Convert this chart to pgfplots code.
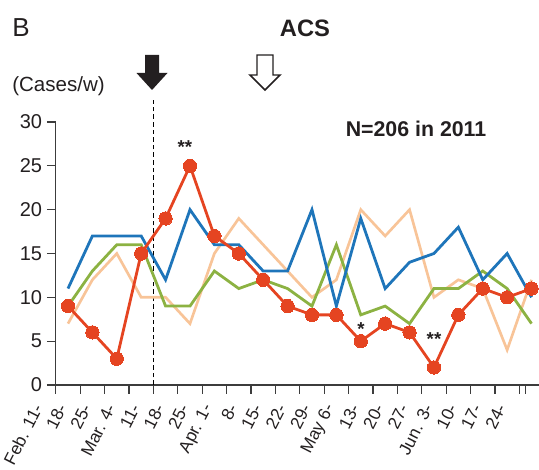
\documentclass[border=0pt]{standalone}
\usepackage{fontspec}
\setmainfont{Liberation Sans}
\usepackage{pgfplots}
\pgfplotsset{compat=1.18}

\definecolor{cblue}{RGB}{30,117,186}
\definecolor{cgreen}{RGB}{140,178,66}
\definecolor{corange}{RGB}{248,196,152}
\definecolor{cred}{RGB}{229,68,33}
\definecolor{axgray}{RGB}{60,60,60}
\definecolor{txt}{RGB}{35,31,32}

\begin{document}
\begin{tikzpicture}
\begin{axis}[
  name=ax, at={(0,0)}, anchor=south west,
  width=362.3pt, height=197.25pt, scale only axis,
  xmin=-0.5, xmax=19.3, ymin=0, ymax=30,
  clip=false,
  axis lines*=left,
  axis line style={axgray, line width=1pt},
  tick align=outside,
  major tick length=6.75pt,
  tick style={axgray, line width=0.9pt},
  ytick={0,5,...,30},
  xtick={-0.5,0.5,...,18.5},
  extra x ticks={18.75}, extra x tick labels={},
  xticklabels={Feb. 11-,18-,25-,Mar. 4-,11-,18-,25-,Apr. 1-,8-,15-,22-,29-,May 6-,13-,20-,27-,Jun. 3-,10-,17-,24-},
  xticklabel style={xshift=-13pt, yshift=-7.5pt, rotate=63, anchor=east, font=\fontsize{13}{14}\selectfont, text=txt, inner sep=1pt},
  yticklabel style={font=\fontsize{15}{15}\selectfont, text=txt},
  /pgf/number format/assume math mode=true,
]
\draw[black, line width=0.9pt, dash pattern=on 3.5pt off 2.2pt] (axis cs:3.5,0) -- (axis cs:3.5,32.5);
\addplot[corange, line width=2pt] coordinates {
(0,7) (1,12) (2,15) (3,10) (4,10) (5,7) (6,15) (7,19) (8,16) (9,13)
(10,10) (11,12) (12,20) (13,17) (14,20) (15,10) (16,12) (17,11) (18,4) (19,12)};
\addplot[cgreen, line width=2.1pt] coordinates {
(0,9) (1,13) (2,16) (3,16) (4,9) (5,9) (6,13) (7,11) (8,12) (9,11)
(10,9) (11,16) (12,8) (13,9) (14,7) (15,11) (16,11) (17,13) (18,11) (19,7)};
\addplot[cblue, line width=2.1pt] coordinates {
(0,11) (1,17) (2,17) (3,17) (4,12) (5,20) (6,16) (7,16) (8,13) (9,13)
(10,20) (11,9) (12,19) (13,11) (14,14) (15,15) (16,18) (17,12) (18,15) (19,10)};
\addplot[cred, line width=2.1pt, mark=*, mark size=5pt, mark options={fill=cred, draw=cred, line width=0pt}] coordinates {
(0,9) (1,6) (2,3) (3,15) (4,19) (5,25) (6,17) (7,15) (8,12) (9,9)
(10,8) (11,8) (12,5) (13,7) (14,6) (15,2) (16,8) (17,11) (18,10) (19,11)};
\end{axis}
\begin{scope}[x=0.75pt, y=-0.75pt, shift={(-41.85pt,288.75pt)}]
  \node[anchor=base west, inner sep=0pt, text=txt, font=\fontsize{19.5}{20}\selectfont] at (12,37) {B};
  \node[anchor=base, inner sep=0pt, text=txt, font=\bfseries\fontsize{17.8}{18}\selectfont] at (305,37) {ACS};
  \node[anchor=base west, inner sep=0pt, text=txt, font=\fontsize{15.4}{16}\selectfont] at (12,92) {(Cases/w)};
  \node[anchor=base west, inner sep=0pt, text=txt, font=\bfseries\fontsize{16}{16}\selectfont] at (345.5,136.5) {N=206 in 2011};
  \node[anchor=base, inner sep=0pt, text=txt, font=\bfseries\fontsize{14}{14}\selectfont] at (185,154) {**};
  \node[anchor=base, inner sep=0pt, text=txt, font=\bfseries\fontsize{14}{14}\selectfont] at (361,336) {*};
  \node[anchor=base, inner sep=0pt, text=txt, font=\bfseries\fontsize{14}{14}\selectfont] at (434,346) {**};
  \fill[txt] (152,90) -- (136.5,73) -- (145,73) -- (145,55) -- (159,55) -- (159,73) -- (167.5,73) -- cycle;
  \draw[txt, line width=1.1pt, fill=white, line join=miter] (265,90) -- (250,75) -- (257,75) -- (257,55) -- (273,55) -- (273,75) -- (280,75) -- cycle;
  \pgfresetboundingbox
  \path[use as bounding box] (0,0) rectangle (539,470);
\end{scope}
\end{tikzpicture}
\end{document}
